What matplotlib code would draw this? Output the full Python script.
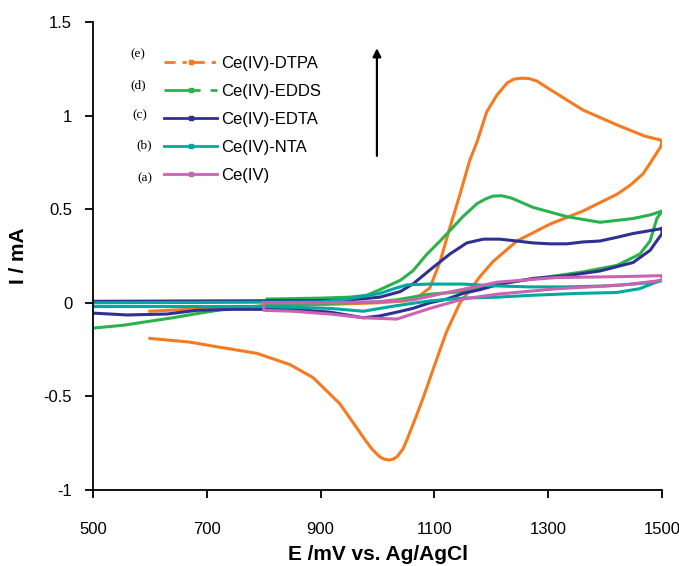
import matplotlib
matplotlib.use("Agg")
import matplotlib.pyplot as plt
from matplotlib.lines import Line2D
from matplotlib.ticker import FuncFormatter, FixedLocator

# ---------------- data ----------------
E_dtpa = [600, 700, 800, 900, 1000, 1050, 1075, 1092, 1110, 1127, 1145, 1162, 1175, 1192,
          1210, 1228, 1240, 1254, 1266, 1280, 1303, 1361, 1421, 1470, 1497, 1500,
          1497, 1480, 1467, 1445, 1421, 1361, 1303, 1245, 1203, 1180, 1168, 1145, 1122, 1110,
          1080, 1065, 1052, 1045, 1035, 1028, 1020, 1012, 1005, 998, 990, 980, 964, 934, 887,
          846, 788, 728, 670, 600]
I_dtpa = [-0.045, -0.03, -0.02, -0.01, 0.0, 0.01, 0.04, 0.08, 0.22, 0.40, 0.58, 0.76, 0.86, 1.02,
          1.11, 1.175, 1.195, 1.20, 1.198, 1.185, 1.14, 1.03, 0.95, 0.89, 0.87, 0.855,
          0.83, 0.75, 0.69, 0.63, 0.58, 0.49, 0.42, 0.33, 0.22, 0.14, 0.09, 0.0, -0.15, -0.25,
          -0.51, -0.63, -0.73, -0.78, -0.82, -0.835, -0.84, -0.835, -0.825, -0.805, -0.78, -0.74,
          -0.67, -0.54, -0.40, -0.33, -0.27, -0.24, -0.21, -0.19]

E_edds = [806, 900, 950, 981, 1004, 1040, 1062, 1087, 1110, 1127, 1150, 1175, 1190, 1203, 1218, 1235,
          1273, 1333, 1391, 1449, 1480, 1500,
          1491, 1479, 1461, 1421, 1361, 1315, 1245, 1210, 1150, 1092, 1034, 1000, 900, 800,
          740, 688, 640, 553, 500]
I_edds = [0.02, 0.025, 0.03, 0.04, 0.07, 0.12, 0.17, 0.26, 0.33, 0.385, 0.46, 0.53, 0.555, 0.57, 0.572, 0.56,
          0.51, 0.46, 0.43, 0.45, 0.47, 0.49,
          0.45, 0.33, 0.26, 0.20, 0.165, 0.145, 0.115, 0.10, 0.06, 0.046, 0.016, 0.005, -0.005, -0.015,
          -0.03, -0.055, -0.08, -0.12, -0.135]

E_edta = [500, 700, 900, 950, 1004, 1040, 1062, 1098, 1127, 1157, 1186, 1215, 1245, 1273,
          1303, 1333, 1361, 1391, 1421, 1449, 1497, 1500,
          1500, 1479, 1449, 1391, 1333, 1273, 1215, 1180, 1150, 1122, 1092, 1062, 1034, 1004,
          975, 917, 850, 746, 683, 630, 560, 500]
I_edta = [0.008, 0.01, 0.012, 0.015, 0.03, 0.06, 0.10, 0.19, 0.26, 0.32, 0.34, 0.34, 0.33, 0.32,
          0.315, 0.315, 0.325, 0.33, 0.35, 0.37, 0.395, 0.40,
          0.37, 0.28, 0.215, 0.17, 0.145, 0.13, 0.10, 0.07, 0.05, 0.02, 0.0, -0.03, -0.05, -0.07,
          -0.08, -0.05, -0.035, -0.035, -0.04, -0.06, -0.065, -0.055]

E_nta = [500, 700, 900, 946, 1004, 1034, 1052, 1092, 1150, 1210, 1268, 1330, 1400, 1450, 1485, 1500,
         1490, 1460, 1420, 1350, 1270, 1210, 1150, 1092, 1034, 975, 917, 800, 700, 500]
I_nta = [0.0, 0.002, 0.005, 0.02, 0.05, 0.08, 0.096, 0.10, 0.10, 0.09, 0.085, 0.085, 0.09, 0.10, 0.11, 0.12,
         0.11, 0.075, 0.055, 0.05, 0.04, 0.03, 0.025, 0.01, -0.015, -0.045, -0.03, -0.02, -0.02, -0.02]

E_ce = [800, 900, 1000, 1062, 1122, 1180, 1210, 1315, 1431, 1500,
        1500, 1431, 1315, 1210, 1150, 1092, 1034, 975, 917, 850, 800, 800]
I_ce = [0.0, 0.0, 0.005, 0.015, 0.055, 0.09, 0.11, 0.135, 0.14, 0.145,
        0.12, 0.095, 0.075, 0.046, 0.02, -0.03, -0.087, -0.08, -0.06, -0.045, -0.04, 0.0]

labels = ["Ce(IV)-DTPA", "Ce(IV)-EDDS", "Ce(IV)-EDTA", "Ce(IV)-NTA", "Ce(IV)"]
tags = ["(e)", "(d)", "(c)", "(b)", "(a)"]
x_ticks = [500, 700, 900, 1100, 1300, 1500]
y_ticks = [-1, -0.5, 0, 0.5, 1, 1.5]

# ---------------- styling ----------------
c_dtpa = "#F47B20"
c_edds = "#2BB34B"
c_edta = "#2E3192"
c_nta = "#00A99D"
c_ce = "#CC62B4"

plt.rcParams['font.family'] = ['Liberation Sans', 'DejaVu Sans']

W, H = 679, 566
fig = plt.figure(figsize=(W / 100, H / 100), dpi=100)
ax = fig.add_axes([93 / W, 1 - 490 / H, (662 - 93) / W, (490 - 22) / H])

lw = 2.2
ax.plot(E_dtpa, I_dtpa, color=c_dtpa, lw=lw, solid_joinstyle='round')
ax.plot(E_edds, I_edds, color=c_edds, lw=lw, solid_joinstyle='round')
ax.plot(E_edta, I_edta, color=c_edta, lw=lw, solid_joinstyle='round')
ax.plot(E_nta, I_nta, color=c_nta, lw=lw, solid_joinstyle='round')
ax.plot(E_ce, I_ce, color=c_ce, lw=lw, solid_joinstyle='round')

ax.set_xlim(500, 1500)
ax.set_ylim(-1, 1.5)
ax.xaxis.set_major_locator(FixedLocator(x_ticks))
ax.yaxis.set_major_locator(FixedLocator(y_ticks))
ax.yaxis.set_major_formatter(FuncFormatter(lambda v, p: "%g" % v))
ax.xaxis.set_major_formatter(FuncFormatter(lambda v, p: "%g" % v))
ax.spines['top'].set_visible(False)
ax.spines['right'].set_visible(False)
for s in ('left', 'bottom'):
    ax.spines[s].set_linewidth(1.3)
ax.tick_params(axis='x', direction='out', length=6, width=1.3, labelsize=12, pad=17)
ax.tick_params(axis='y', direction='out', length=6, width=1.3, labelsize=12, pad=9)
for t in ax.get_xticklabels() + ax.get_yticklabels():
    t.set_clip_on(False)

ax.set_xlabel("E /mV vs. Ag/AgCl", fontsize=15, fontweight='bold', labelpad=6)
ax.set_ylabel("I / mA", fontsize=15, fontweight='bold', labelpad=11)

# arrow
arrow_x, arrow_y0, arrow_y1 = 999, 0.785, 1.36
ax.annotate('', xy=(arrow_x, arrow_y1), xytext=(arrow_x, arrow_y0),
            arrowprops=dict(arrowstyle='-|>', color='black', lw=1.6, mutation_scale=12,
                            shrinkA=0, shrinkB=0))

# legend
ms = 3
handles = [
    Line2D([], [], color=c_dtpa, lw=2, dashes=(4, 2.5, 1.5, 2.5), marker='s', markersize=ms),
    Line2D([], [], color=c_edds, lw=2, dashes=(13, 3.6, 2.5, 3.6), marker='s', markersize=ms),
    Line2D([], [], color=c_edta, lw=2, marker='s', markersize=ms),
    Line2D([], [], color=c_nta, lw=2, marker='s', markersize=ms),
    Line2D([], [], color=c_ce, lw=2, marker='s', markersize=ms),
]
leg = ax.legend(handles, labels, loc='upper left', bbox_to_anchor=(164 / W, 1 - 56 / H),
                bbox_transform=fig.transFigure, frameon=False, fontsize=12,
                handlelength=3.2, handletextpad=0.25, labelspacing=0.78,
                borderpad=0, borderaxespad=0, numpoints=1)

tag_pos = [(138, 54), (138, 85), (140, 115), (144, 145), (145, 178)]
for tg, (px, py) in zip(tags, tag_pos):
    fig.text(px / W, 1 - py / H, tg, fontsize=9.5, family='Liberation Serif',
             ha='center', va='center')

fig.savefig("out.png", dpi=100)
